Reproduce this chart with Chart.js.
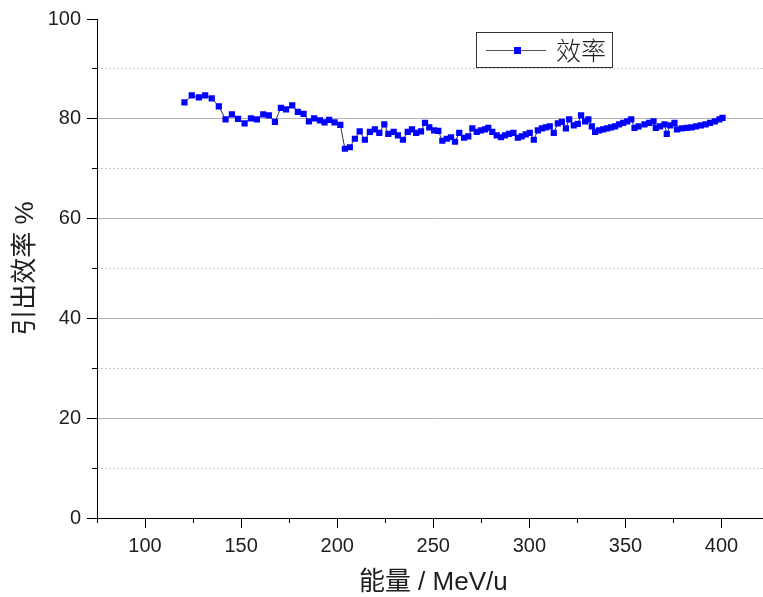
<!DOCTYPE html>
<html>
<head>
<meta charset="utf-8">
<script src="https://cdn.jsdelivr.net/npm/chart.js@4.4.1/dist/chart.umd.min.js"></script>
<style>
  html, body { margin:0; padding:0; background:#fff; overflow:hidden; }
  #wrap { width:763px; height:597px; overflow:hidden; position:relative; }
  canvas { display:block; }
</style>
</head>
<body>
<div id="wrap"><canvas id="c" width="774" height="597"></canvas></div>
<script>
const energy = [
  120.5, 124.3, 128.0, 131.3, 134.7, 138.4, 141.9, 145.2, 148.4, 151.8,
  155.1, 158.2, 161.5, 164.4, 167.6, 170.7, 173.4, 176.6, 179.5, 182.5,
  185.3, 188.0, 191.0, 193.4, 195.8, 198.6, 201.6, 204.0, 206.6, 209.2,
  211.7, 214.4, 217.0, 219.6, 221.9, 224.5, 226.6, 229.4, 231.6, 234.2,
  236.7, 238.9, 241.1, 243.6, 245.7, 247.9, 250.4, 252.6, 254.7, 257.0,
  259.2, 261.3, 263.5, 266.0, 268.2, 270.3, 272.6, 274.8, 276.9, 278.6,
  280.7, 283.0, 285.2, 287.3, 289.4, 291.7, 294.0, 296.0, 298.1, 300.2,
  302.3, 304.4, 306.5, 308.5, 310.6, 312.7, 314.8, 316.9, 319.0, 320.7,
  323.1, 325.2, 326.9, 329.0, 330.7, 332.5, 334.2, 336.3, 338.4, 340.5,
  342.5, 344.6, 346.7, 348.8, 350.9, 353.0, 354.7, 356.8, 359.9, 362.3,
  364.6, 365.8, 368.0, 370.3, 371.5, 373.3, 375.5, 376.8, 379.4, 381.9,
  384.4, 386.7, 389.2, 391.7, 394.0, 396.5, 398.9, 400.5
];
const efficiency = [
  83.3, 84.7, 84.3, 84.7, 84.1, 82.5, 79.9, 80.9, 80.0, 79.1,
  80.1, 79.9, 80.9, 80.7, 79.4, 82.2, 81.9, 82.7, 81.4, 81.0,
  79.5, 80.1, 79.7, 79.3, 79.8, 79.3, 78.8, 74.0, 74.3, 76.0,
  77.5, 75.8, 77.4, 77.9, 77.2, 78.9, 77.0, 77.4, 76.7, 75.8,
  77.4, 77.9, 77.2, 77.5, 79.2, 78.3, 77.7, 77.6, 75.6, 76.0,
  76.3, 75.4, 77.2, 76.2, 76.5, 78.1, 77.4, 77.7, 77.9, 78.2,
  77.4, 76.7, 76.3, 76.7, 77.0, 77.2, 76.2, 76.5, 76.9, 77.2,
  75.8, 77.7, 78.1, 78.3, 78.5, 77.2, 79.1, 79.4, 78.1, 79.9,
  78.7, 79.0, 80.7, 79.5, 79.9, 78.5, 77.4, 77.7, 77.9, 78.1,
  78.3, 78.5, 78.9, 79.2, 79.5, 79.9, 78.2, 78.5, 78.9, 79.2,
  79.5, 78.2, 78.5, 78.9, 77.0, 78.7, 79.2, 77.9, 78.1, 78.2,
  78.3, 78.5, 78.7, 78.9, 79.2, 79.5, 79.9, 80.2
];
const seriesName = '效率';
const xTitle = '能量 / MeV/u';
const yTitle = '引出效率 %';
const xMajorTicks = [100, 150, 200, 250, 300, 350, 400];
const xMinorTicks = [75, 125, 175, 225, 275, 325, 375, 425];
const yMajorTicks = [0, 20, 40, 60, 80, 100];
const yMinorTicks = [10, 30, 50, 70, 90];

const FONT = '"Liberation Sans", Arial, "Noto Sans CJK SC", sans-serif';
const TEXT = '#1e1e1e';
const none = 'rgba(0,0,0,0)';

const legendBox = {
  id: 'legendBox',
  afterDraw(chart) {
    const ctx = chart.ctx;
    const ds = chart.data.datasets[0];
    ctx.save();
    ctx.fillStyle = '#fff';
    ctx.fillRect(476.5, 32.5, 136, 35);
    ctx.strokeStyle = '#333';
    ctx.lineWidth = 1;
    ctx.strokeRect(476.5, 32.5, 136, 35);
    ctx.strokeStyle = '#555';
    ctx.beginPath();
    ctx.moveTo(486, 50.5);
    ctx.lineTo(546, 50.5);
    ctx.stroke();
    ctx.fillStyle = ds.pointBackgroundColor;
    ctx.fillRect(514, 47, 7, 7);
    ctx.fillStyle = TEXT;
    ctx.font = '300 25px "Noto Sans CJK SC", sans-serif';
    ctx.textBaseline = 'middle';
    ctx.fillText(ds.label, 556, 50);
    ctx.restore();
  }
};

new Chart(document.getElementById('c'), {
  type: 'line',
  data: {
    datasets: [{
      label: seriesName,
      data: energy.map((e, i) => ({ x: e, y: efficiency[i] })),
      borderColor: '#333',
      borderWidth: 1,
      pointStyle: 'rect',
      pointRadius: 4.4,
      pointBorderWidth: 0,
      pointBackgroundColor: '#0000ff',
      pointBorderColor: '#0000ff',
      tension: 0,
      fill: false
    }]
  },
  options: {
    responsive: false,
    animation: false,
    devicePixelRatio: 1,
    layout: { padding: { top: 19, left: 0, right: 0, bottom: 0 } },
    plugins: { legend: { display: false }, tooltip: { enabled: false } },
    scales: {
      x: {
        type: 'linear', position: 'bottom', weight: 1, min: 75, max: 425,
        afterBuildTicks: s => { s.ticks = xMajorTicks.map(v => ({ value: v })); },
        afterFit: s => { s.height = 79; },
        grid: { drawOnChartArea: false, tickColor: '#000', tickLength: 10 },
        border: { display: true, color: '#000', width: 1 },
        ticks: { padding: 6, color: TEXT, font: { family: FONT, size: 20 }, maxRotation: 0, autoSkip: false },
        title: { display: true, text: xTitle, color: TEXT, font: { family: FONT, size: 26, lineHeight: 1 }, padding: { top: 0, bottom: 1 } }
      },
      x2: {
        type: 'linear', position: 'bottom', weight: 0, min: 75, max: 425,
        afterBuildTicks: s => { s.ticks = xMinorTicks.map(v => ({ value: v })); },
        afterFit: s => { s.height = 0; },
        grid: { drawOnChartArea: false, tickColor: '#000', tickLength: 5 },
        border: { display: false },
        ticks: { display: false }
      },
      y: {
        type: 'linear', position: 'left', weight: 1, min: 0, max: 100,
        afterBuildTicks: s => { s.ticks = yMajorTicks.map(v => ({ value: v })); },
        afterFit: s => { s.width = 97; },
        grid: {
          color: c => (c.tick && (c.tick.value === 0 || c.tick.value === 100)) ? none : '#b4b4b4',
          tickColor: '#000', tickLength: 10, lineWidth: 1
        },
        border: { display: true, color: '#000', width: 1 },
        ticks: { padding: 6, color: TEXT, font: { family: FONT, size: 20 } },
        title: { display: true, text: yTitle, color: TEXT, font: { family: FONT, size: 26 }, padding: { top: 10, bottom: 0 } }
      },
      y2: {
        type: 'linear', position: 'left', weight: 0, min: 0, max: 100,
        afterBuildTicks: s => { s.ticks = yMinorTicks.map(v => ({ value: v })); },
        afterFit: s => { s.width = 0; },
        grid: { color: '#c8c8c8', tickColor: '#000', tickLength: 5, lineWidth: 1 },
        border: { display: false, dash: [2, 2] },
        ticks: { display: false }
      }
    }
  },
  plugins: [legendBox]
});
</script>
</body>
</html>
